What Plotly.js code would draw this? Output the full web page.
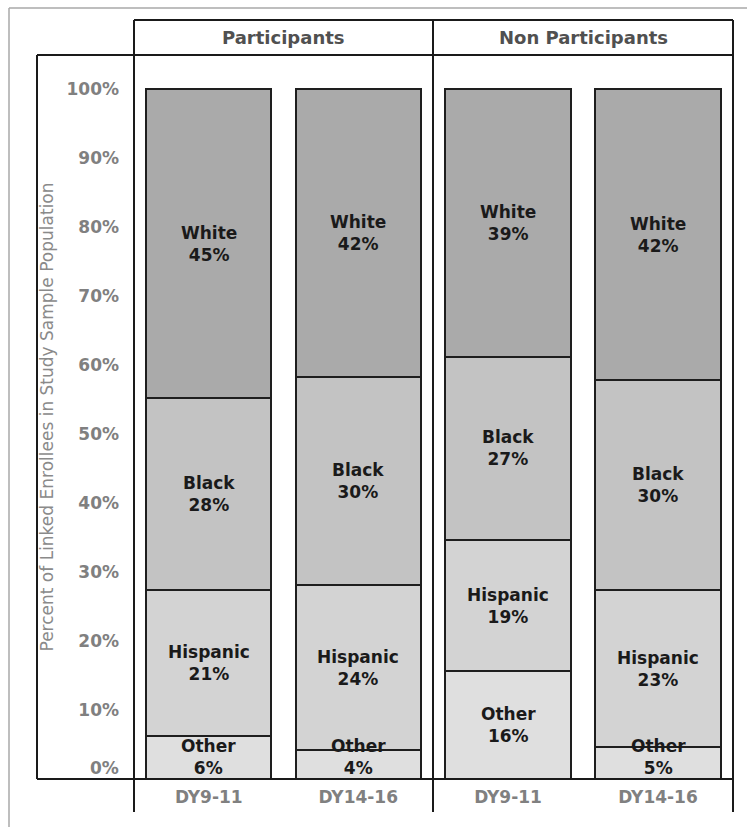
<!DOCTYPE html>
<html>
<head>
<meta charset="utf-8">
<script src="https://cdn.plot.ly/plotly-3.0.1.min.js"></script>
<style>html,body{margin:0;padding:0;background:#fff;}</style>
</head>
<body>
<div id="chart" style="width:747px;height:827px;"></div>
<script>
// ---- data ----
const categories = ['DY9-11', 'DY14-16'];
const groups = ['Other', 'Hispanic', 'Black', 'White'];
const panelTitles = ['Participants', 'Non Participants'];

const participantsOther    = [6.2, 4.2];
const participantsHispanic = [21.2, 23.9];
const participantsBlack    = [27.8, 30.2];
const participantsWhite    = [44.8, 41.7];

const nonParticipantsOther    = [15.6, 4.6];
const nonParticipantsHispanic = [19.0, 22.8];
const nonParticipantsBlack    = [26.6, 30.4];
const nonParticipantsWhite    = [38.8, 42.2];

const yTickValues = [10, 20, 30, 40, 50, 60, 70, 80, 90, 100];
const yZeroTick = [0];

// ---- styles ----
const groupColors = {Other: '#dfdfdf', Hispanic: '#d3d3d3', Black: '#c3c3c3', White: '#aaaaaa'};
const FONT = 'DejaVu Sans, Arial, sans-serif';
const Y_MAX = 100 + 34 / 6.9;

const panels = [
  {axis: 'x', values: [participantsOther, participantsHispanic, participantsBlack, participantsWhite]},
  {axis: 'x2', values: [nonParticipantsOther, nonParticipantsHispanic, nonParticipantsBlack, nonParticipantsWhite]}
];

// ---- geometry helpers (paper coords) ----
const W = 747, H = 827;
const mL = 134, mR = 14, mT = 55, mB = 48;
const pw = W - mL - mR, ph = H - mT - mB;
const px = xx => (xx - mL) / pw;
const py = yy => (H - mB - yy) / ph;
const split = px(433);
const pxPerUnit = ph / Y_MAX;
const LABEL_H = 46; // px height of a two-line segment label

const traces = [];
const annotations = [];
panels.forEach(p => {
  const base = categories.map(() => 0);
  groups.forEach((g, i) => {
    const vals = p.values[i];
    traces.push({
      type: 'bar',
      name: g,
      x: categories,
      y: vals,
      xaxis: p.axis,
      yaxis: 'y',
      marker: {color: groupColors[g], line: {color: '#1e1e1e', width: 2}},
      hoverinfo: 'skip',
      showlegend: false
    });
    vals.forEach((v, j) => {
      const small = v * pxPerUnit < LABEL_H;
      annotations.push({
        text: '<b>' + g + '<br>' + Math.round(v) + '%</b>',
        xref: p.axis, yref: 'y',
        x: categories[j],
        y: small ? base[j] : base[j] + v / 2,
        xanchor: 'center', yanchor: small ? 'bottom' : 'middle',
        showarrow: false, borderpad: 0,
        font: {family: FONT, size: 17, color: '#1a1a1a'}
      });
      base[j] += v;
    });
  });
});

const line = (x0, y0, x1, y1, color, width) => ({
  type: 'line', xref: 'paper', yref: 'paper',
  x0: px(x0), y0: py(y0), x1: px(x1), y1: py(y1),
  line: {color: color || '#1a1a1a', width: width || 2}, layer: 'above'
});

const shapes = [
  line(9, 8, 747, 8, '#a8a8a8', 1.5),
  line(9, 8, 9, 827, '#a8a8a8', 1.5),
  line(134, 20, 733, 20),
  line(134, 55, 733, 55),
  line(37, 55, 134, 55),
  line(37, 55, 37, 779),
  line(37, 779, 733, 779),
  line(134, 20, 134, 812),
  line(433, 20, 433, 812),
  line(733, 20, 733, 812)
];

annotations.push(
  {text: '<b>' + panelTitles[0] + '</b>', xref: 'paper', yref: 'paper', x: px((134 + 433) / 2), y: py(38),
   xanchor: 'center', yanchor: 'middle', showarrow: false, font: {family: FONT, size: 18, color: '#505050'}},
  {text: '<b>' + panelTitles[1] + '</b>', xref: 'paper', yref: 'paper', x: px((433 + 733) / 2), y: py(38),
   xanchor: 'center', yanchor: 'middle', showarrow: false, font: {family: FONT, size: 18, color: '#505050'}}
);

const yTickFont = {family: FONT, size: 17, color: '#808080', weight: 'bold'};

// 0% tick label sits slightly above the baseline in the original
yZeroTick.forEach(v => annotations.push({
  text: '<b>' + v + '%</b>', xref: 'paper', yref: 'y', x: 0, y: v,
  xanchor: 'right', yanchor: 'middle', xshift: -14, yshift: 11,
  showarrow: false, borderpad: 0, font: yTickFont
}));

const xaxisBase = {
  type: 'category', showline: false, showgrid: false, zeroline: false, ticks: '',
  tickfont: {family: FONT, size: 17, color: '#808080', weight: 'bold'},
  ticklabelstandoff: 6, fixedrange: true
};

const layout = {
  width: W, height: H,
  margin: {l: mL, r: mR, t: mT, b: mB, pad: 0},
  paper_bgcolor: '#ffffff', plot_bgcolor: '#ffffff',
  barmode: 'stack', bargap: 0.164,
  showlegend: false,
  xaxis: Object.assign({}, xaxisBase, {domain: [0, split], anchor: 'y'}),
  xaxis2: Object.assign({}, xaxisBase, {domain: [split, 1], anchor: 'y'}),
  yaxis: {
    range: [0, Y_MAX], tickvals: yTickValues, ticktext: yTickValues.map(v => v + '%'),
    showline: false, showgrid: false, zeroline: false, ticks: '',
    tickfont: yTickFont,
    ticklabelstandoff: 14, fixedrange: true,
    title: {text: 'Percent of Linked Enrollees in Study Sample Population',
            font: {family: FONT, size: 17, color: '#8a8a8a'}, standoff: 8}
  },
  shapes: shapes,
  annotations: annotations,
  font: {family: FONT}
};

Plotly.newPlot('chart', traces, layout, {displayModeBar: false, staticPlot: true});
</script>
</body>
</html>
